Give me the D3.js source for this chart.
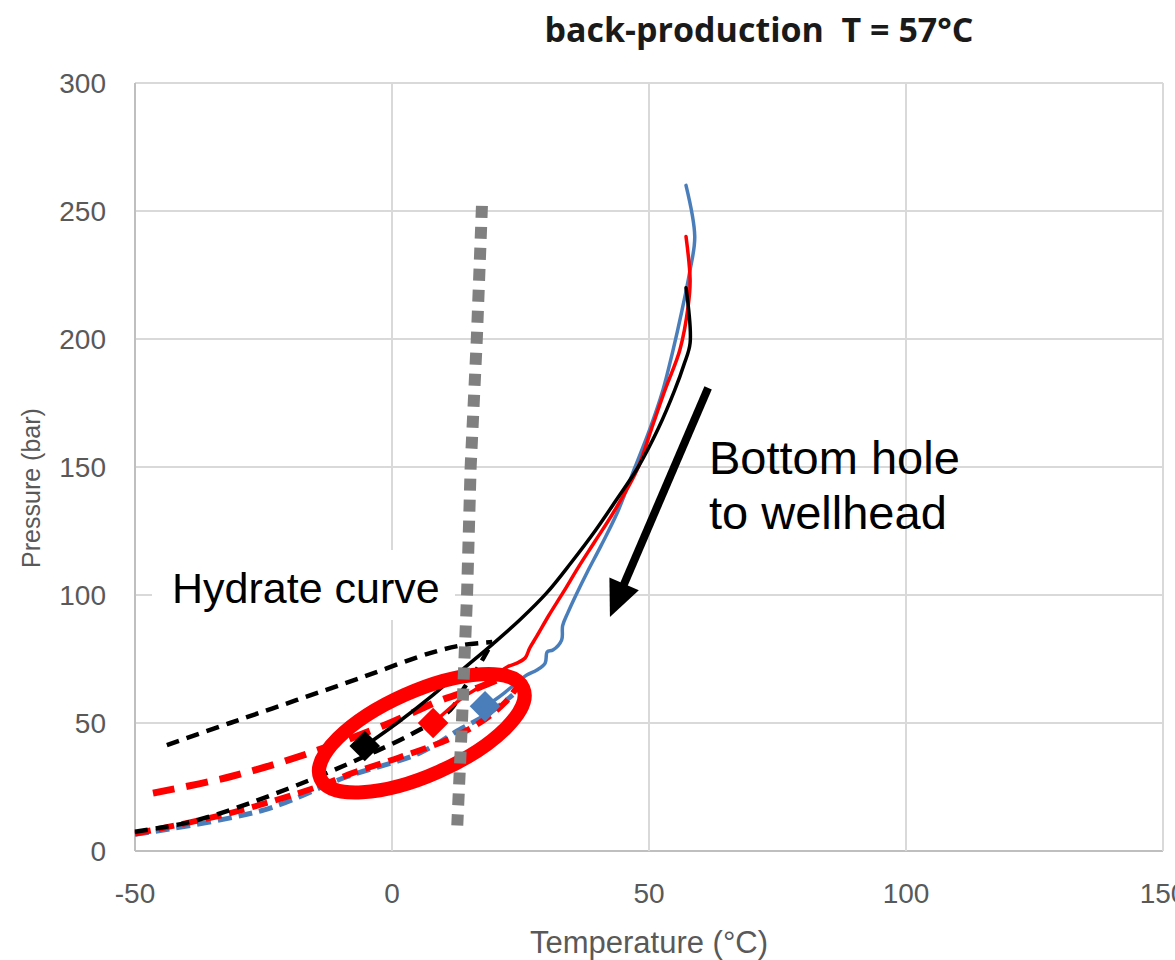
<!DOCTYPE html>
<html>
<head>
<meta charset="utf-8">
<script src="https://cdn.jsdelivr.net/npm/d3@7"></script>
<style>
  html, body { margin: 0; padding: 0; background: #fff; }
  svg { display: block; }
</style>
</head>
<body>
<svg id="chart" width="1175" height="960"></svg>
<script>
// ---------- data ----------
const chartTitle = "back-production  T = 57°C";
const xTicks = [-50, 0, 50, 100, 150];
const yTicks = [0, 50, 100, 150, 200, 250, 300];
const xLabel = "Temperature (°C)";
const yLabel = "Pressure (bar)";

// solid well-flow profiles [T, P]
const blueSolid = [[57.2,260],[58.9,240],[57.9,226],[56.4,211],[54.6,195],[52.7,180],[50.2,165],[47.3,150],[43.8,132],[40.6,119],[38,109],[35.8,100],[34.2,93],[33.2,88],[33,82.4],[31.3,78.5],[30.2,77.8],[29.8,73.4],[28.2,70.7],[26.3,68.8],[24.9,66.8],[22,62],[20,59],[18.1,56.5]];
const redSolid = [[57.2,240],[58,223],[57.6,212.5],[56,195.7],[53.1,180],[50.5,165],[47.7,149],[43,132],[39.5,121],[36.3,111],[33.3,101],[30.5,92],[28.2,84],[26.8,79.3],[25.9,75.4],[24.3,73.4],[22.4,71.9],[20.4,69],[17,64],[13.8,60],[9.3,52.3],[8,50]];
const blackSolid = [[57.2,220],[58,198.5],[56.8,190],[55,180],[51.8,165],[47.9,150],[43.6,137],[39.5,125],[34.8,112.5],[30.1,100.8],[25,90.5],[19.7,81],[13.5,70.5],[7.4,60],[1,50],[-5.3,41]];

// dashed phase envelopes [T, P]
const blackDashUpper = [[-43.8,41.4],[-31.5,50],[-18.5,59],[-5.6,68],[7.4,77.3],[14,80.5],[19.5,81.6]];
const blackDashLower = [[-50,7.5],[-40,11],[-31.5,16],[-16,27.7],[-5.6,36.7],[4.1,46],[11.3,55],[13.8,63],[16.5,71],[19.5,81.6]];
const redDashUpper = [[-46.5,22.6],[-31.5,29],[-16,38.3],[-1,49.5],[9,58.5],[17,64],[23,69]];
const redDashLower = [[-50,6.8],[-31.5,14.8],[-14.6,25],[-7.6,30.5],[1.6,36.7],[10.7,43.4],[17,50],[22,58],[25,66]];
const blueDash = [[-50,6.5],[-25,16],[-8.8,29],[5.4,38.3],[13.2,47.5],[19,54],[23.5,61]];

// hydrate curve [T, P]
const hydrate = [[17.5,252],[16.5,200],[15.3,150],[14.6,100],[13.6,50],[12.7,10]];

// wellhead markers [T, P]
const markers = [
  {name: "black", t: -5.3, p: 41},
  {name: "red", t: 8, p: 50},
  {name: "blue", t: 18.1, p: 56.5}
];

// annotations
const hydrateText = "Hydrate curve";
const arrowText = ["Bottom hole", "to wellhead"];
const arrowFrom = [61.5, 180.9];
const arrowTo = [42.4, 91.4];
const ellipseCenter = [5.8, 46];

// ---------- drawing ----------
const colors = {blue: "#4a7ebb", red: "#ff0000", black: "#000000", grid: "#d9d9d9", axis: "#bfbfbf", text: "#595959", hydrate: "#808080"};
const svg = d3.select("#chart");
const x = d3.scaleLinear().domain([-50, 150]).range([135, 1163]);
const y = d3.scaleLinear().domain([0, 300]).range([851, 83]);

// gridlines
svg.append("g").selectAll("line").data(yTicks).join("line")
  .attr("x1", x(-50)).attr("x2", x(150))
  .attr("y1", d => y(d)).attr("y2", d => y(d))
  .attr("stroke", d => d === 0 ? colors.axis : colors.grid).attr("stroke-width", 2);
svg.append("g").selectAll("line").data(xTicks).join("line")
  .attr("x1", d => x(d)).attr("x2", d => x(d))
  .attr("y1", y(0)).attr("y2", y(300))
  .attr("stroke", d => d === -50 ? colors.axis : colors.grid).attr("stroke-width", 2);

// tick labels
const tickFont = "'Liberation Sans', Arial, sans-serif";
svg.append("g").selectAll("text").data(yTicks).join("text")
  .attr("x", 106).attr("y", d => y(d)).attr("dy", "0.35em")
  .attr("text-anchor", "end").attr("font-family", tickFont).attr("font-size", 28)
  .attr("fill", colors.text).text(d => d);
svg.append("g").selectAll("text").data(xTicks).join("text")
  .attr("x", d => x(d)).attr("y", 903)
  .attr("text-anchor", "middle").attr("font-family", tickFont).attr("font-size", 28)
  .attr("fill", colors.text).text(d => d);

// axis titles
svg.append("text").attr("x", 649).attr("y", 953).attr("text-anchor", "middle")
  .attr("font-family", tickFont).attr("font-size", 31).attr("fill", colors.text).text(xLabel);
svg.append("text").attr("transform", "translate(40,488) rotate(-90)").attr("text-anchor", "middle")
  .attr("font-family", tickFont).attr("font-size", 25).attr("fill", colors.text).text(yLabel);

// title
svg.append("text").attr("x", 759).attr("y", 42).attr("text-anchor", "middle")
  .attr("font-family", "'Open Sans', 'Liberation Sans', sans-serif").attr("font-weight", "bold")
  .attr("font-size", 34).attr("fill", "#1a1a1a").attr("xml:space", "preserve").text(chartTitle);

// white box behind hydrate label
svg.append("rect").attr("x", 152).attr("y", 550).attr("width", 303).attr("height", 70).attr("fill", "#fff");

const line = d3.line().x(d => x(d[0])).y(d => y(d[1])).curve(d3.curveCatmullRom.alpha(0.5));

// dashed envelopes
function dashed(data, color, w, dash) {
  svg.append("path").attr("d", line(data)).attr("fill", "none")
    .attr("stroke", color).attr("stroke-width", w).attr("stroke-dasharray", dash);
}
dashed(blueDash, colors.blue, 5, "14 7");
dashed(redDashLower, colors.red, 6, "16 8");
dashed(blackDashLower, colors.black, 4.5, "13 8");
dashed(redDashUpper, colors.red, 7, "22 12");
dashed(blackDashUpper, colors.black, 4.5, "13 8");

// solid profiles
function solid(data, color) {
  svg.append("path").attr("d", line(data)).attr("fill", "none")
    .attr("stroke", color).attr("stroke-width", 3.5).attr("stroke-linejoin", "round").attr("stroke-linecap", "round");
}
solid(blueSolid, colors.blue);
solid(redSolid, colors.red);
solid(blackSolid, colors.black);

// markers
svg.append("g").selectAll("path").data(markers).join("path")
  .attr("d", d3.symbol().type(d3.symbolSquare).size(470))
  .attr("transform", d => `translate(${x(d.t)},${y(d.p)}) rotate(45)`)
  .attr("fill", d => colors[d.name]);

// red ellipse
svg.append("ellipse").attr("cx", x(ellipseCenter[0])).attr("cy", y(ellipseCenter[1]))
  .attr("rx", 111).attr("ry", 42)
  .attr("transform", `rotate(-24,${x(ellipseCenter[0])},${y(ellipseCenter[1])})`)
  .attr("fill", "none").attr("stroke", "#ff0000").attr("stroke-width", 14);

// hydrate curve (grey square dots)
svg.append("path").attr("d", d3.line().x(d => x(d[0])).y(d => y(d[1]))(hydrate))
  .attr("fill", "none").attr("stroke", colors.hydrate).attr("stroke-width", 12).attr("stroke-dasharray", "12 9");

// arrow
const ax1 = x(arrowFrom[0]), ay1 = y(arrowFrom[1]), ax2 = x(arrowTo[0]), ay2 = y(arrowTo[1]);
const len = Math.hypot(ax2 - ax1, ay2 - ay1), ux = (ax2 - ax1) / len, uy = (ay2 - ay1) / len;
const headL = 36, headW = 16;
const bx = ax2 - ux * headL, by = ay2 - uy * headL;
svg.append("line").attr("x1", ax1).attr("y1", ay1).attr("x2", bx + ux * 4).attr("y2", by + uy * 4)
  .attr("stroke", "#000").attr("stroke-width", 8);
svg.append("polygon").attr("points", [[ax2, ay2], [bx - uy * headW, by + ux * headW], [bx + uy * headW, by - ux * headW]].map(p => p.join(",")).join(" "))
  .attr("fill", "#000");

// annotation texts
const annFont = "'Liberation Sans', Arial, sans-serif";
svg.append("text").attr("x", 172).attr("y", 603).attr("font-family", annFont).attr("font-size", 43).attr("fill", "#000").text(hydrateText);
svg.append("text").attr("x", 709).attr("y", 474).attr("font-family", annFont).attr("font-size", 47).attr("fill", "#000").text(arrowText[0]);
svg.append("text").attr("x", 709).attr("y", 529).attr("font-family", annFont).attr("font-size", 47).attr("fill", "#000").text(arrowText[1]);
</script>
</body>
</html>
